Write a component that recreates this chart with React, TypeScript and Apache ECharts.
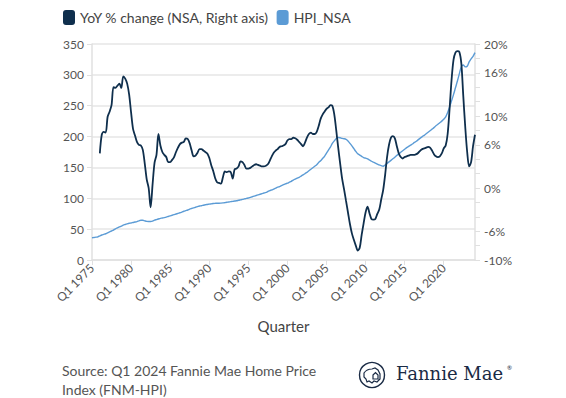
import React, { useEffect, useRef } from "react";
import * as echarts from "echarts";

const FIRST_YEAR = 1975;
const LAST_YEAR = 2024;
const quarterNames = ["Q1", "Q2", "Q3", "Q4"];
const categories: string[] = [];
for (let y = FIRST_YEAR; y <= LAST_YEAR; y++) {
  for (const q of quarterNames) {
    if (y === LAST_YEAR && q !== "Q1") break;
    categories.push(`${q} ${y}`);
  }
}

// YoY % change (NSA), right axis — quarterly, grouped by decade
const yoy1970s = [null, null, null, null, 4.8, 7.4, 7.8, 7.7, 9.9, 10.6, 11.5, 14.0, 13.9, 14.2, 14.5, 13.9, 15.5, 15.2, 14.5, 13.0];
const yoy1980s = [10.5, 8.2, 7.3, 6.4, 6.0, 5.9, 5.3, 3.4, 1.2, 0.0, -2.7, 0.5, 3.5, 4.6, 7.5, 5.9, 5.0, 4.6, 4.3, 3.6, 3.6, 3.9, 4.3, 5.0, 5.6, 6.1, 6.3, 6.4, 6.9, 6.8, 6.2, 5.2, 4.4, 4.5, 4.9, 5.4, 5.4, 5.2, 5.0, 4.8];
const yoy1990s = [4.2, 3.2, 2.4, 1.4, 0.8, 0.7, 0.6, 1.5, 2.3, 2.2, 2.3, 2.2, 1.3, 2.6, 2.7, 3.0, 3.7, 3.6, 3.2, 2.7, 2.7, 2.8, 3.0, 3.2, 3.3, 3.2, 3.1, 3.0, 3.0, 3.1, 3.3, 3.8, 4.4, 4.9, 5.2, 5.4, 5.7, 5.8, 5.9, 6.1];
const yoy2000s = [6.6, 6.8, 6.8, 7.0, 6.9, 6.7, 6.4, 6.1, 5.8, 6.3, 7.0, 7.5, 7.7, 7.5, 7.5, 7.8, 8.6, 9.6, 10.2, 10.6, 11.0, 11.2, 11.5, 11.4, 10.2, 8.0, 5.6, 3.4, 1.3, -0.2, -1.8, -3.4, -5.0, -6.3, -7.2, -8.0, -8.7, -8.3, -6.5, -4.9];
const yoy2010s = [-3.4, -2.6, -3.5, -4.3, -4.4, -4.3, -3.6, -3.0, -1.6, -0.3, 1.8, 4.3, 6.0, 7.0, 7.2, 6.9, 5.8, 4.8, 4.3, 4.1, 4.3, 4.4, 4.5, 4.6, 4.6, 4.6, 4.7, 4.9, 5.2, 5.4, 5.5, 5.6, 5.7, 5.6, 5.2, 4.7, 4.4, 4.3, 4.4, 4.8];
const yoy2020s = [5.5, 5.9, 7.5, 11.0, 15.0, 17.8, 18.8, 19.0, 18.9, 17.3, 12.8, 8.5, 5.0, 3.0, 3.6, 5.8, 7.4];

// HPI_NSA, left axis
const hpi1970s = [36, 36.5, 37, 37.5, 39, 40.5, 41.5, 42.5, 44, 45.5, 47, 48.5, 50.5, 52, 53.5, 55, 56.5, 57.5, 58.5, 59.5];
const hpi1980s = [60, 60.8, 61.5, 62.3, 63.5, 64.5, 64.5, 63.5, 62.5, 62.3, 62.3, 63, 64.5, 65.5, 66.5, 67.5, 68, 68.7, 69.5, 70.5, 71.5, 72.5, 73.5, 74.5, 75.5, 76.5, 77.5, 79, 80, 81, 82.5, 83.5, 84.5, 85.5, 86.5, 87.5, 88, 88.8, 89.5, 90];
const hpi1990s = [90.5, 91, 91.5, 91.8, 92, 92, 92.2, 92.5, 93, 93.5, 94, 94.5, 95, 95.5, 96, 96.8, 97.5, 98.2, 99, 99.8, 100.5, 101.5, 102.5, 103.5, 104.5, 105.5, 106.5, 107.5, 108.5, 109.5, 111, 112.5, 113.5, 115, 116.5, 118, 119, 120.5, 122, 123.5];
const hpi2000s = [124.5, 126, 127.5, 129.5, 131, 132.5, 134, 136, 138, 140, 142, 144.5, 147, 149.5, 152, 154.5, 158, 161, 164.5, 168, 173, 178, 183, 189, 193, 197, 198.5, 198, 197, 196.5, 195.5, 193, 189, 185, 180.5, 176, 172, 170, 168, 166];
const hpi2010s = [165, 164, 162, 160, 158.5, 157, 155.5, 154, 153, 152, 154, 156.5, 159, 161.5, 164, 166.5, 169.5, 172, 174.5, 177, 179.5, 182, 184, 186, 188, 190.5, 192.5, 195, 197.5, 200, 202, 204.5, 207, 209.5, 212, 214.5, 217.5, 220, 222.5, 225];
const hpi2020s = [228, 232, 239, 248, 258, 268, 279, 290, 302, 313, 316, 313, 314, 321, 326, 330, 336];

const yoyValues = [...yoy1970s, ...yoy1980s, ...yoy1990s, ...yoy2000s, ...yoy2010s, ...yoy2020s];
const hpiValues = [...hpi1970s, ...hpi1980s, ...hpi1990s, ...hpi2000s, ...hpi2010s, ...hpi2020s];

const rightAxisShown = [20, 16, 10, 6, 0, -6, -10];

const DARK = "#0f2f4d";
const LIGHT = "#5b9bd5";
const TXT = "#555555";
const FONT = "Lato, 'Noto Sans', sans-serif";

const logoD =
  "M5 11 C7 8 10 7 13 7 L16 6 L19 8 L21 12 L21 17 L18 20 L15 19 L13 21 L10 19 L8 20 L7 17 L5 15 Z M14 13 L16.5 10.5 L19 13 L19 17 L14 17 Z";

export default function App() {
  const ref = useRef<HTMLDivElement>(null);
  useEffect(() => {
    if (!ref.current) return;
    try {
      echarts.graphic.registerShape("logo", echarts.graphic.extendPath(logoD, {}));
    } catch (e) {}
    const chart = echarts.init(ref.current, null, { renderer: "svg" });
    chart.setOption({
      animation: false,
      textStyle: { fontFamily: FONT },
      legend: {
        left: 58,
        top: 5,
        itemWidth: 12,
        itemHeight: 15,
        itemGap: 8,
        icon: "roundRect",
        textStyle: { fontSize: 14, color: "#444", fontFamily: FONT },
        data: ["YoY % change (NSA, Right axis)", "HPI_NSA"],
      },
      grid: { left: 92, right: 91, top: 44, bottom: 138 },
      xAxis: {
        type: "category",
        data: categories,
        boundaryGap: false,
        name: "Quarter",
        nameLocation: "middle",
        nameGap: 58,
        nameTextStyle: { fontSize: 15, color: "#444", fontFamily: FONT },
        axisLine: { lineStyle: { color: "#e0e0e0", width: 1.5 } },
        axisTick: { show: true, length: 5, interval: (i: number) => i % 20 === 0, lineStyle: { color: "#e0e0e0" } },
        axisLabel: {
          interval: (i: number) => i % 20 === 0,
          rotate: 45,
          fontSize: 12,
          color: TXT,
          margin: 6,
          fontFamily: FONT,
        },
      },
      yAxis: [
        {
          type: "value",
          min: 0,
          max: 350,
          interval: 50,
          axisLine: { show: true, lineStyle: { color: "#e0e0e0", width: 1.5 } },
          axisTick: { show: true, length: 5, lineStyle: { color: "#e0e0e0" } },
          axisLabel: { fontSize: 12, color: TXT, margin: 8, fontFamily: FONT },
          splitLine: { lineStyle: { color: "#e6e6e6", width: 1.5 } },
        },
        {
          type: "value",
          min: -10,
          max: 20,
          interval: 2,
          position: "right",
          axisLine: { show: true, lineStyle: { color: "#e0e0e0", width: 1.5 } },
          axisTick: { show: true, length: 5, lineStyle: { color: "#e0e0e0" } },
          axisLabel: {
            fontSize: 12,
            color: TXT,
            margin: 9,
            fontFamily: FONT,
            formatter: (v: number) => (rightAxisShown.includes(v) ? `${v}%` : ""),
          },
          splitLine: { show: false },
        },
      ],
      series: [
        {
          name: "HPI_NSA",
          type: "line",
          yAxisIndex: 0,
          data: hpiValues,
          showSymbol: false,
          smooth: 0.3,
          z: 2,
          lineStyle: { color: LIGHT, width: 1.4 },
          itemStyle: { color: LIGHT },
        },
        {
          name: "YoY % change (NSA, Right axis)",
          type: "line",
          yAxisIndex: 1,
          data: yoyValues,
          showSymbol: false,
          smooth: 0.3,
          z: 3,
          lineStyle: { color: DARK, width: 1.8 },
          itemStyle: { color: DARK },
        },
      ],
      graphic: [
        {
          type: "text",
          left: 62,
          top: 361,
          style: {
            text: "Source: Q1 2024 Fannie Mae Home Price\nIndex (FNM-HPI)",
            fontSize: 14,
            lineHeight: 19,
            fill: TXT,
            fontFamily: FONT,
          },
        },
        {
          type: "circle",
          shape: { cx: 372, cy: 375, r: 12.5 },
          style: { fill: "none", stroke: "#1a2b45", lineWidth: 1.4 },
        },
        {
          type: "logo",
          x: 359,
          y: 362,
          scaleX: 1,
          scaleY: 1,
          style: { fill: "none", stroke: "#1a2b45", lineWidth: 1.2 },
        },
        {
          type: "text",
          left: 396,
          top: 364,
          style: {
            text: "Fannie Mae",
            fontSize: 18,
            fill: "#1a2b45",
            fontFamily: "'DejaVu Serif', serif",
          },
        },
        {
          type: "text",
          left: 507,
          top: 364,
          style: { text: "®", fontSize: 6, fill: "#1a2b45", fontFamily: FONT },
        },
      ],
    });
    return () => chart.dispose();
  }, []);
  return <div ref={ref} style={{ width: 566, height: 398, position: "absolute", left: 0, top: 0 }} />;
}
